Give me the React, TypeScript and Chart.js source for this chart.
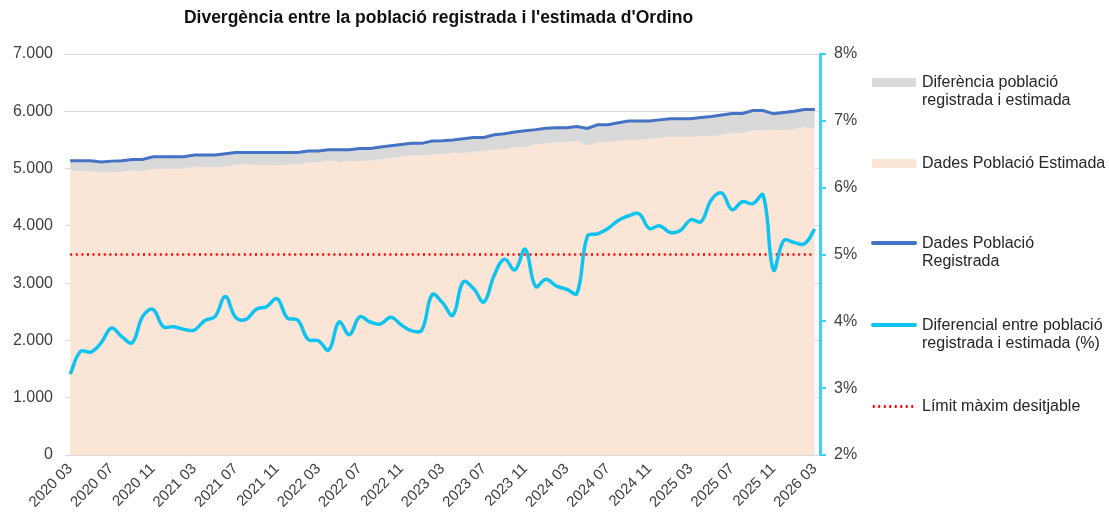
import React, { useEffect, useRef } from "react";
import { Chart, registerables } from "chart.js";

Chart.register(...registerables);

const MONTHS = [
  "2020 03", "2020 04", "2020 05", "2020 06", "2020 07", "2020 08", "2020 09", "2020 10", "2020 11", "2020 12",
  "2021 01", "2021 02", "2021 03", "2021 04", "2021 05", "2021 06", "2021 07", "2021 08", "2021 09", "2021 10", "2021 11", "2021 12",
  "2022 01", "2022 02", "2022 03", "2022 04", "2022 05", "2022 06", "2022 07", "2022 08", "2022 09", "2022 10", "2022 11", "2022 12",
  "2023 01", "2023 02", "2023 03", "2023 04", "2023 05", "2023 06", "2023 07", "2023 08", "2023 09", "2023 10", "2023 11", "2023 12",
  "2024 01", "2024 02", "2024 03", "2024 04", "2024 05", "2024 06", "2024 07", "2024 08", "2024 09", "2024 10", "2024 11", "2024 12",
  "2025 01", "2025 02", "2025 03", "2025 04", "2025 05", "2025 06", "2025 07", "2025 08", "2025 09", "2025 10", "2025 11", "2025 12",
  "2026 01", "2026 02", "2026 03",
];

const REGISTERED = [
  5136, 5136, 5136, 5113, 5130, 5136, 5160, 5160, 5207, 5207,
  5207, 5207, 5236, 5236, 5236, 5260, 5282, 5282, 5282, 5282,
  5282, 5282, 5282, 5305, 5305, 5329, 5329, 5329, 5352, 5352,
  5375, 5400, 5420, 5440, 5440, 5480, 5486, 5500, 5520, 5544,
  5544, 5590, 5608, 5640, 5660, 5680, 5705, 5712, 5712, 5735,
  5700, 5764, 5764, 5800, 5829, 5829, 5829, 5850, 5869, 5869,
  5869, 5890, 5910, 5935, 5962, 5962, 6014, 6014, 5956, 5980,
  6000, 6031, 6031,
];

const ESTIMATED = [
  4971, 4954, 4954, 4925, 4930, 4942, 4970, 4950, 4989, 5003,
  5003, 5005, 5033, 5026, 5023, 5030, 5068, 5069, 5061, 5059,
  5053, 5068, 5070, 5107, 5108, 5139, 5116, 5126, 5134, 5138,
  5162, 5181, 5206, 5230, 5229, 5240, 5251, 5275, 5267, 5295,
  5306, 5328, 5332, 5371, 5372, 5423, 5441, 5453, 5456, 5482,
  5400, 5458, 5453, 5480, 5504, 5502, 5515, 5532, 5556, 5554,
  5545, 5567, 5566, 5584, 5624, 5617, 5668, 5660, 5672, 5668,
  5689, 5720, 5707,
];

const DIFF_PCT = [
  3.21, 3.55, 3.54, 3.68, 3.90, 3.77, 3.68, 4.07, 4.18, 3.92,
  3.92, 3.88, 3.87, 4.01, 4.07, 4.37, 4.06, 4.03, 4.18, 4.22,
  4.34, 4.05, 4.02, 3.73, 3.71, 3.57, 3.99, 3.80, 4.07, 3.99,
  3.96, 4.06, 3.95, 3.86, 3.87, 4.40, 4.28, 4.09, 4.59, 4.49,
  4.29, 4.69, 4.93, 4.77, 5.08, 4.52, 4.63, 4.53, 4.48, 4.42,
  5.27, 5.31, 5.39, 5.51, 5.58, 5.61, 5.39, 5.43, 5.33, 5.36,
  5.52, 5.49, 5.82, 5.92, 5.67, 5.79, 5.76, 5.89, 4.77, 5.21,
  5.18, 5.16, 5.38,
];

const LIMIT_PCT = 5;

const TITLE = "Divergència entre la població registrada i l'estimada d'Ordino";

const LEGEND = [
  { kind: "box", color: "#D9D9D9", lines: ["Diferència població", "registrada i estimada"], y: 82 },
  { kind: "box", color: "#FBE5D6", lines: ["Dades Població Estimada"], y: 163 },
  { kind: "line", color: "#4472C4", lines: ["Dades Població", "Registrada"], y: 243 },
  { kind: "line", color: "#0FC3F0", lines: ["Diferencial entre població", "registrada i estimada (%)"], y: 325 },
  { kind: "dots", color: "#FF0000", lines: ["Límit màxim desitjable"], y: 406 },
];

const FONT = "'Liberation Sans', Arial, sans-serif";
const TEXT = "#404040";

function fmtThousands(v: number) {
  return String(v).replace(/\B(?=(\d{3})+(?!\d))/g, ".");
}

export default function App() {
  const ref = useRef<HTMLCanvasElement>(null);

  useEffect(() => {
    if (!ref.current) return;
    const pts = (arr: number[]) => arr.map((y, x) => ({ x, y }));
    const chart = new Chart(ref.current, {
      type: "line",
      data: {
        datasets: [
          {
            label: "Dades Població Estimada",
            data: pts(ESTIMATED),
            yAxisID: "y",
            fill: "origin",
            backgroundColor: "#FBE5D6",
            borderColor: "transparent",
            borderWidth: 0,
            pointRadius: 0,
            order: 4,
          },
          {
            label: "Diferència població registrada i estimada",
            data: pts(REGISTERED),
            yAxisID: "y",
            fill: "-1",
            backgroundColor: "#D9D9D9",
            borderColor: "transparent",
            borderWidth: 0,
            pointRadius: 0,
            order: 3,
          },
          {
            label: "Dades Població Registrada",
            data: pts(REGISTERED),
            yAxisID: "y",
            fill: false,
            borderColor: "#4472C4",
            borderWidth: 3,
            pointRadius: 0,
            tension: 0,
            order: 2,
          },
          {
            label: "Límit màxim desitjable",
            data: pts(MONTHS.map(() => LIMIT_PCT)),
            yAxisID: "y1",
            fill: false,
            borderColor: "#FF0000",
            borderWidth: 2.5,
            borderDash: [2, 3.6],
            pointRadius: 0,
            order: 1,
          },
          {
            label: "Diferencial entre població registrada i estimada (%)",
            data: pts(DIFF_PCT),
            yAxisID: "y1",
            fill: false,
            borderColor: "#0FC3F0",
            borderWidth: 3.5,
            pointRadius: 0,
            tension: 0.4,
            cubicInterpolationMode: "default",
            order: 0,
          },
        ],
      },
      options: {
        animation: false,
        responsive: true,
        maintainAspectRatio: false,
        layout: { padding: { top: 54, left: 0, right: 0, bottom: 0 } },
        plugins: {
          legend: { display: false },
          title: { display: false },
          tooltip: { enabled: false },
        },
        scales: {
          x: {
            type: "linear",
            min: -0.5,
            max: 72.5,
            grid: { display: false },
            border: { display: false },
            ticks: {
              stepSize: 4,
              includeBounds: false,
              autoSkip: false,
              maxRotation: 45,
              minRotation: 45,
              padding: -3,
              color: TEXT,
              font: { family: FONT, size: 15 },
              callback: (v: any) => {
                const n = Number(v);
                return Number.isInteger(n) && n % 4 === 0 ? MONTHS[n] : "";
              },
            },
            afterFit: (s: any) => {
              s.height = 65;
            },
          },
          y: {
            position: "left",
            min: 0,
            max: 7000,
            grid: { color: "#D9D9D9", lineWidth: 1, drawTicks: false },
            border: { display: false },
            ticks: {
              stepSize: 1000,
              padding: 12,
              color: TEXT,
              font: { family: FONT, size: 16 },
              callback: (v: any) => fmtThousands(Number(v)),
            },
            afterFit: (s: any) => {
              s.width = 65;
            },
          },
          y1: {
            position: "right",
            min: 2,
            max: 8,
            grid: { drawOnChartArea: false, drawTicks: true, tickLength: 6, color: "#3FD0F7", lineWidth: 2 },
            border: { display: true, color: "#3FD0F7", width: 3 },
            ticks: {
              stepSize: 1,
              padding: 8,
              color: TEXT,
              font: { family: FONT, size: 16 },
              callback: (v: any) => `${v}%`,
            },
            afterFit: (s: any) => {
              s.width = 289;
            },
          },
        },
      },
    } as any);
    return () => chart.destroy();
  }, []);

  return (
    <div style={{ position: "fixed", left: 0, top: 0, width: 1109, height: 520, background: "#fff", fontFamily: FONT }}>
      <canvas ref={ref} style={{ position: "absolute", left: 0, top: 0, width: 1109, height: 520 }} />
      <div
        style={{
          position: "absolute",
          left: 0,
          width: 877,
          top: 6,
          textAlign: "center",
          fontWeight: "bold",
          fontSize: 17.5,
          lineHeight: "22px",
          color: "#111",
          whiteSpace: "nowrap",
        }}
      >
        {TITLE}
      </div>
      {LEGEND.map((item, i) => (
        <div key={i}>
          {item.kind === "box" && (
            <div style={{ position: "absolute", left: 872, top: item.y - 4, width: 44, height: 9, background: item.color }} />
          )}
          {item.kind === "line" && (
            <div style={{ position: "absolute", left: 871, top: item.y - 2, width: 46, height: 4, background: item.color, borderRadius: 2 }} />
          )}
          {item.kind === "dots" && (
            <div
              style={{
                position: "absolute",
                left: 871,
                top: item.y - 1,
                width: 44,
                height: 3,
                backgroundImage: `radial-gradient(circle, ${item.color} 1.2px, transparent 1.4px)`,
                backgroundSize: "5.5px 3px",
              }}
            />
          )}
          {item.lines.map((t, j) => (
            <div
              key={j}
              style={{
                position: "absolute",
                left: 922,
                top: item.y - 10 + j * 18,
                fontSize: 16,
                lineHeight: "20px",
                color: "#262626",
                whiteSpace: "nowrap",
              }}
            >
              {t}
            </div>
          ))}
        </div>
      ))}
    </div>
  );
}
